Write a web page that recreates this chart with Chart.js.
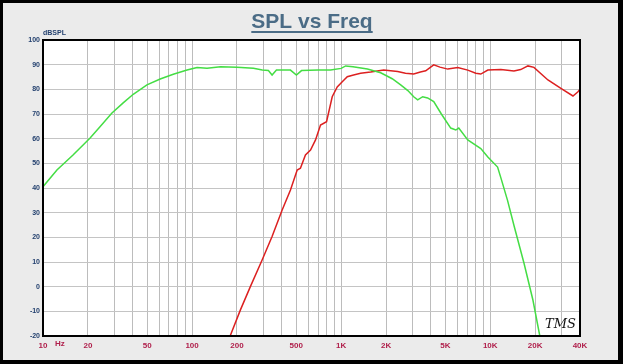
<!DOCTYPE html>
<html lang="en">
<head>
    <meta charset="UTF-8">
    <title>SPL vs Freq</title>
    <script src="https://cdn.jsdelivr.net/npm/chart.js@4.4.1/dist/chart.umd.min.js"></script>
    <style>
        body { margin: 0; }
        .frame {
            width: 623px;
            height: 364px;
            box-sizing: border-box;
            border-style: solid;
            border-color: #000;
            border-width: 3px 5px 4px 3px;
            background: #ebebeb;
        }
        canvas { display: block; }
    </style>
</head>
<body>
    <div class="frame">
        <canvas id="splChart" width="615" height="357"></canvas>
    </div>

    <script>
        // woofer response (green)
        const wooferFreq = [10, 12.4, 15.9, 20.7, 24.2, 28.9, 34.5, 40.3, 49.8, 61.1, 74.8, 92.5, 108, 126, 155, 200, 258, 296, 325, 344, 368, 420, 457, 501, 542, 700, 849, 1000, 1072, 1200, 1500, 1841, 2200, 2507, 2800, 3066, 3260, 3524, 3800, 4178, 4700, 5433, 5870, 6150, 7068, 8643, 9636, 11200, 11800, 13060, 14500, 16830, 19330, 21500];
        const wooferDb = [40.5, 47.3, 53.4, 60.3, 64.9, 70.3, 74.5, 78, 81.8, 84.2, 86.1, 87.8, 88.8, 88.5, 89.2, 89, 88.5, 87.8, 87.6, 85.8, 87.8, 87.8, 87.8, 85.8, 87.6, 87.8, 87.8, 88.5, 89.5, 89.2, 88.2, 86.7, 84.3, 81.8, 79.5, 77, 75.7, 77, 76.5, 75, 70, 64.3, 63.5, 64.3, 59.5, 56, 52.6, 48.5, 44, 35, 24.3, 9.6, -5.4, -20];

        // tweeter response (red)
        const tweeterFreq = [180, 211, 246, 295, 344, 402, 457, 507, 533, 576, 623, 673, 727, 798, 871, 941, 1017, 1099, 1211, 1350, 1577, 1928, 2394, 2700, 3066, 3400, 3690, 4178, 4600, 5188, 6053, 7068, 8000, 8643, 9636, 11780, 14420, 16000, 17910, 19640, 24380, 29790, 35890, 38780, 40000];
        const tweeterDb = [-20, -9.4, 0, 10.8, 20.3, 31.1, 39.2, 47.3, 48, 53.4, 55.4, 59.5, 65.5, 66.9, 77, 81, 83.1, 85.1, 85.8, 86.5, 87, 87.8, 87.2, 86.5, 86.2, 87, 87.5, 89.9, 89, 88.2, 88.8, 87.8, 86.5, 86.2, 87.8, 88, 87.4, 88, 89.5, 88.9, 83.8, 80.4, 77.3, 79, 80];

        // axis labels
        const xLabelValues = [10, 20, 50, 100, 200, 500, 1000, 2000, 5000, 10000, 20000, 40000];
        const xLabelText = ['10', '20', '50', '100', '200', '500', '1K', '2K', '5K', '10K', '20K', '40K'];
        const yMin = -20, yMax = 100, yStep = 10;

        // vertical grid: 1..9 per decade up to 40K
        const xGridValues = [];
        for (let d = 10; d <= 10000; d *= 10) {
            for (let m = 1; m <= 9; m++) {
                if (d * m <= 40000) xGridValues.push(d * m);
            }
        }

        const toPoints = (fs, ds) => fs.map((f, i) => ({ x: f, y: ds[i] }));

        // white plot background, border and the extra texts
        const overlay = {
            id: 'overlay',
            beforeDraw(chart) {
                const a = chart.chartArea;
                chart.ctx.save();
                chart.ctx.fillStyle = '#fff';
                chart.ctx.fillRect(a.left, a.top, a.right - a.left, a.bottom - a.top);
                chart.ctx.restore();
            },
            afterDraw(chart) {
                const ctx = chart.ctx;
                const area = chart.chartArea;
                const xs = chart.scales.x;
                ctx.save();

                ctx.strokeStyle = '#000';
                ctx.lineWidth = 2;
                ctx.strokeRect(area.left, area.top, area.right - area.left, area.bottom - area.top);

                // title, underlined
                ctx.font = 'bold 21px "Liberation Sans", Arial, sans-serif';
                ctx.fillStyle = '#4b6c86';
                ctx.textAlign = 'center';
                ctx.textBaseline = 'alphabetic';
                const title = 'SPL vs Freq';
                ctx.fillText(title, 309, 25);
                const w = ctx.measureText(title).width;
                ctx.fillRect(309 - w / 2, 28, w, 2);

                ctx.font = 'bold 7px "Liberation Sans", Arial, sans-serif';
                ctx.fillStyle = '#23406e';
                ctx.textAlign = 'left';
                ctx.textBaseline = 'middle';
                ctx.fillText('dBSPL', area.left, area.top - 7);

                ctx.font = 'bold 8px "Liberation Sans", Arial, sans-serif';
                ctx.fillStyle = '#b0204c';
                ctx.fillText('Hz', xs.getPixelForValue(10) + 12, area.bottom + 8);

                ctx.font = 'italic 13px "DejaVu Serif", serif';
                ctx.fillStyle = '#111';
                ctx.fillText('TMS', area.right - 35, area.bottom - 11);
                ctx.restore();
            }
        };

        new Chart(document.getElementById('splChart'), {
            type: 'line',
            data: {
                datasets: [{
                    label: 'Woofer',
                    data: toPoints(wooferFreq, wooferDb),
                    borderColor: '#44dd44',
                    borderWidth: 1.5,
                    pointRadius: 0,
                    tension: 0
                }, {
                    label: 'Tweeter',
                    data: toPoints(tweeterFreq, tweeterDb),
                    borderColor: '#dc2020',
                    borderWidth: 1.5,
                    pointRadius: 0,
                    tension: 0
                }]
            },
            options: {
                responsive: false,
                animation: false,
                layout: { padding: { top: 37, right: 38, left: 0, bottom: 0 } },
                plugins: {
                    legend: { display: false },
                    tooltip: { enabled: false }
                },
                scales: {
                    x: {
                        type: 'logarithmic',
                        min: 10,
                        max: 40000,
                        afterBuildTicks: scale => {
                            scale.ticks = xGridValues.map(v => ({ value: v }));
                        },
                        afterFit: scale => { scale.height = 24; },
                        grid: { color: '#bcbcbc', drawTicks: false },
                        border: { display: false },
                        ticks: {
                            autoSkip: false,
                            maxRotation: 0,
                            padding: 5,
                            color: '#b0204c',
                            font: { family: '"Liberation Sans", Arial, sans-serif', size: 8, weight: 'bold' },
                            callback: value => {
                                const i = xLabelValues.indexOf(value);
                                return i >= 0 ? xLabelText[i] : '';
                            }
                        }
                    },
                    y: {
                        min: yMin,
                        max: yMax,
                        afterFit: scale => { scale.width = 40; },
                        grid: { color: '#c4c4c4', drawTicks: false },
                        border: { display: false },
                        ticks: {
                            stepSize: yStep,
                            padding: 3,
                            color: '#23406e',
                            font: { family: '"Liberation Sans", Arial, sans-serif', size: 7, weight: 'bold' }
                        }
                    }
                }
            },
            plugins: [overlay]
        });
    </script>
</body>
</html>
